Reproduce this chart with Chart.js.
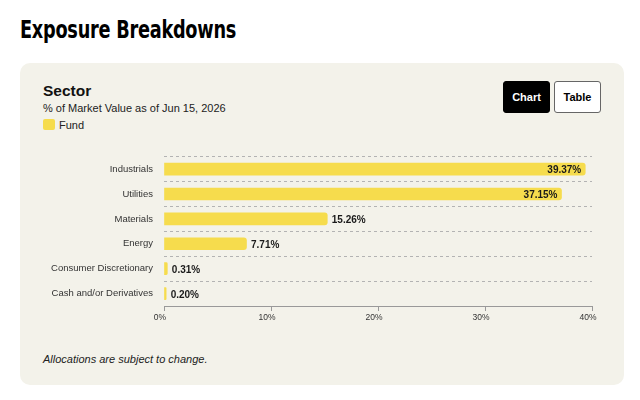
<!DOCTYPE html>
<html>
<head>
<meta charset="utf-8">
<script src="https://cdn.jsdelivr.net/npm/chart.js@4.4.1/dist/chart.umd.min.js"></script>
<style>
	body { margin: 0; background: #fff; font-family: "Liberation Sans", Arial, sans-serif; color: #111; }
	.page { position: relative; width: 640px; height: 400px; overflow: hidden; }
	.title { position: absolute; left: 20px; top: 18px; font-family: "Liberation Sans Narrow", "DejaVu Sans Condensed", sans-serif; font-stretch: condensed; font-weight: 700; font-size: 24px; line-height: 24px; letter-spacing: -0.3px; color: #000; transform: scaleX(0.82); transform-origin: left top; white-space: nowrap; }
	.card { position: absolute; left: 20px; top: 63px; width: 604px; height: 322px; background: #f3f2ea; border-radius: 10px; }
	.abs { position: absolute; white-space: nowrap; }
	.sector { left: 43px; top: 83px; font-weight: 700; font-size: 15.5px; line-height: 16px; color: #111; }
	.sub { left: 43px; top: 103px; font-size: 11px; line-height: 11px; color: #222; }
	.swatch { left: 43px; top: 119px; width: 12px; height: 11px; border-radius: 2px; background: #f6dc4d; }
	.fund { left: 59px; top: 120px; font-size: 11px; line-height: 11px; color: #222; }
	.btn { top: 81px; height: 32px; width: 47px; box-sizing: border-box; border-radius: 3px; font-weight: 700; font-size: 11px; line-height: 30px; text-align: center; }
	.btn-chart { left: 503px; background: #000; color: #fff; border: 1px solid #000; }
	.btn-table { left: 554px; background: #fff; color: #000; border: 1px solid #666; }
	.foot { left: 43px; top: 354px; font-style: italic; font-size: 11px; line-height: 11px; color: #222; }
	.wrap { position: absolute; left: 20px; top: 140px; width: 600px; height: 190px; }
</style>
</head>
<body>
<div class="page">
	<div class="title">Exposure Breakdowns</div>
	<div class="card"></div>
	<div class="abs sector">Sector</div>
	<div class="abs sub">% of Market Value as of Jun 15, 2026</div>
	<div class="abs swatch"></div>
	<div class="abs fund">Fund</div>
	<div class="abs btn btn-chart">Chart</div>
	<div class="abs btn btn-table">Table</div>
	<div class="wrap"><canvas id="chart1"></canvas></div>
	<div class="abs foot">Allocations are subject to change.</div>
</div>
<script>
	// 데이터
	var sectors = ['Industrials', 'Utilities', 'Materials', 'Energy', 'Consumer Discretionary', 'Cash and/or Derivatives'];
	var weights = [39.37, 37.15, 15.26, 7.71, 0.31, 0.20];
	var axisTicks = [0, 10, 20, 30, 40];

	var barColor = '#f6dc4d';

	// 막대 값 라벨
	var valueLabels = {
		id: 'valueLabels',
		afterDatasetsDraw: function(chart) {
			var ctx = chart.ctx;
			var meta = chart.getDatasetMeta(0);
			ctx.save();
			ctx.font = 'bold 10px "Liberation Sans", Arial, sans-serif';
			ctx.fillStyle = '#1a1a1a';
			ctx.textBaseline = 'middle';
			meta.data.forEach(function(bar, i) {
				var v = weights[i];
				var text = v.toFixed(2) + '%';
				if (v > 30) {
					ctx.textAlign = 'right';
					ctx.fillText(text, bar.x - 4, bar.y + 1.5);
				} else {
					ctx.textAlign = 'left';
					ctx.fillText(text, bar.x + 4.5, bar.y + 1.5);
				}
			});
			ctx.restore();
		}
	};

	var config1 = {
		type: 'bar',
		data: {
			labels: sectors,
			datasets: [{
				label: 'Fund',
				data: weights,
				backgroundColor: barColor,
				borderRadius: 3,
				barThickness: 12
			}]
		},
		options: {
			indexAxis: 'y',
			responsive: true,
			maintainAspectRatio: false,
			animation: false,
			layout: {
				padding: { top: 14, right: 28, left: 0, bottom: 0 }
			},
			scales: {
				x: {
					min: axisTicks[0],
					max: axisTicks[axisTicks.length - 1],
					afterBuildTicks: function(scale) {
						scale.ticks = axisTicks.map(function(v) { return { value: v }; });
					},
					afterFit: function(scale) {
						scale.height = 24;
					},
					grid: {
						drawOnChartArea: false,
						drawTicks: true,
						tickLength: 5,
						color: '#999'
					},
					border: {
						display: true,
						color: '#999'
					},
					ticks: {
						padding: 2,
						labelOffset: -4,
						color: '#333',
						font: { family: '"Liberation Sans", Arial, sans-serif', size: 8.5 },
						callback: function(v) { return v + '%'; }
					}
				},
				y: {
					afterFit: function(scale) {
						scale.width = 144;
					},
					grid: {
						offset: true,
						drawTicks: false,
						color: '#b3b3b3'
					},
					border: {
						display: false,
						dash: [3, 3]
					},
					ticks: {
						padding: 11,
						color: '#333',
						font: { family: '"Liberation Sans", Arial, sans-serif', size: 9.5 }
					}
				}
			},
			plugins: {
				legend: { display: false },
				tooltip: { enabled: false }
			}
		},
		plugins: [valueLabels]
	};

	var chart1 = new Chart(document.getElementById('chart1'), config1);
</script>
</body>
</html>
